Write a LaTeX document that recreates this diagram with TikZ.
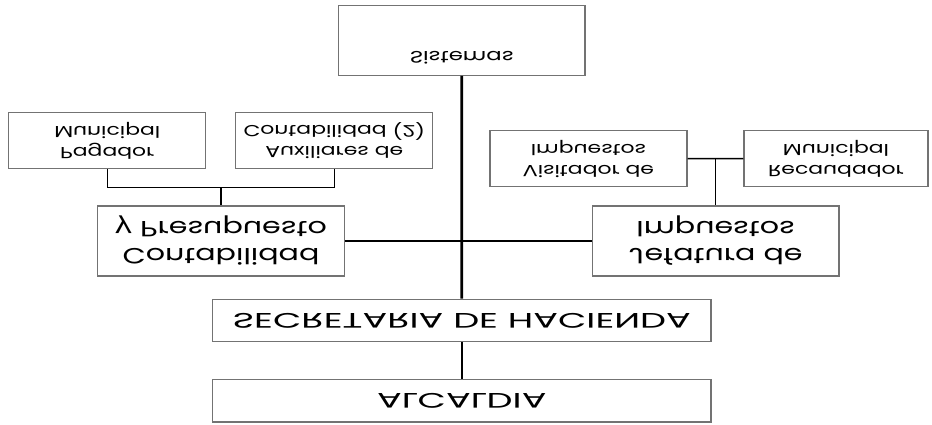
\documentclass[tikz,border=0pt]{standalone}
\usepackage{fontspec}
\setmainfont[FakeStretch=1.37]{Poppins}
\newfontfamily\capsfont[FakeStretch=1.75]{Poppins}
\usepackage{tikz}
\usetikzlibrary{positioning}
\tikzstyle{unit} = [rectangle, draw=black!55, line width=1.3pt, fill=white,
    align=center, inner sep=0pt]
\tikzstyle{big} = [unit, minimum width=246.6pt, minimum height=70pt,
    font=\fontsize{22}{27}\selectfont]
\tikzstyle{small} = [unit, minimum width=197pt, minimum height=56pt,
    font=\fontsize{16}{21}\selectfont]
\tikzstyle{wide} = [unit, minimum width=498.3pt, minimum height=42.5pt,
    font=\capsfont\fontsize{21}{24}\selectfont]
\tikzstyle{edge} = [draw, line width=1.5pt]

\begin{document}
\begin{tikzpicture}[x=1pt, y=1pt, yscale=-1, every node/.append style={transform shape}]
  \useasboundingbox (0,0) rectangle (932,424);
  % Place nodes
  \node [wide] (alcaldia) at (461.8,400.7) {ALCALDIA};
  \node [wide] (hacienda) at (461.8,320.5) {SECRETARIA DE HACIENDA};
  \node [big, text depth=34.6pt, font=\fontsize{16.6}{20}\selectfont] (sistemas) at (461.7,40.2) {Sistemas};
  \node [big] (contab) at (221,241) {Contabilidad\\y Presupuesto};
  \node [big] (jefatura) at (715.7,241) {Jefatura de\\Impuestos};
  \node [small] (pagador) at (107.3,140.8) {Pagador\\Municipal};
  \node [small] (auxiliares) at (334.3,140.8) {Auxiliares de\\Contabilidad (2)};
  \node [small] (visitador) at (588.5,158.8) {Visitador de\\Impuestos};
  \node [small, minimum width=184pt] (recaudador) at (836,158.5) {Recaudador\\Municipal};
  \coordinate (cj) at (221,187.3);
  \coordinate (ij) at (715.7,158.8);
  % Draw edges
  \path[edge, line width=2.6pt] (sistemas) -- (hacienda);
  \path[edge] (hacienda) -- (alcaldia);
  \path[edge] (contab) -- (jefatura);
  \path[edge] (pagador) |- (cj) -| (auxiliares);
  \path[edge] (cj) -- (contab);
  \path[edge] (visitador) -- (recaudador);
  \path[edge] (ij) -- (jefatura);
\end{tikzpicture}
\end{document}
